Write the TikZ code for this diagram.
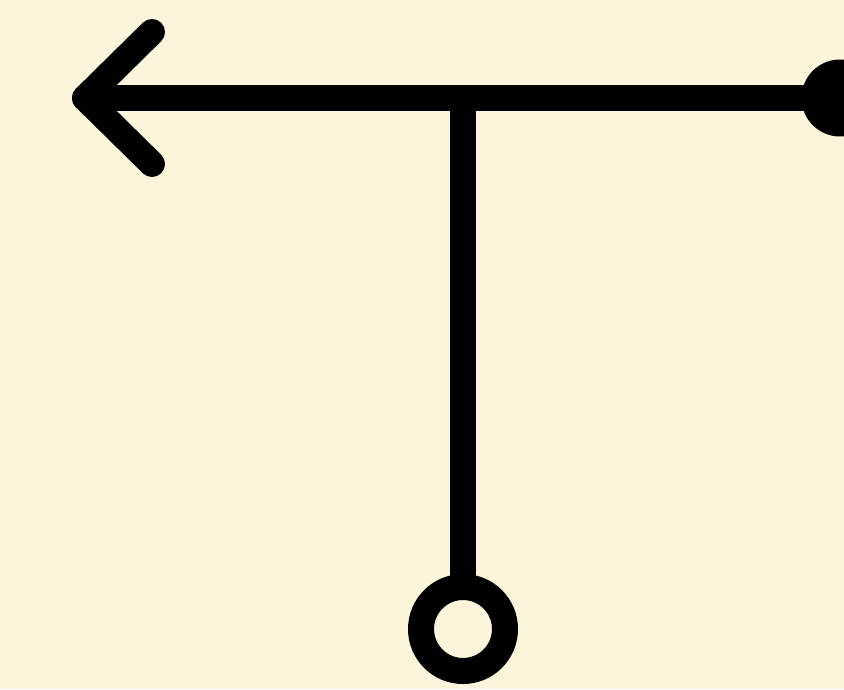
\documentclass[tikz,border=0pt]{standalone}
\usepackage{xcolor}
\usepackage{tikz}
\usetikzlibrary{positioning, calc}
\definecolor{paper}{HTML}{FCF5DC}

\begin{document}
\begin{tikzpicture}[
  x=0.02cm, y=-0.02cm,
  wire/.style={line width=0.52cm, line cap=round, line join=round},
  dot/.style={circle, fill=black, inner sep=0pt, minimum size=1.54cm},
  ring/.style={circle, draw=black, fill=paper, line width=0.52cm, inner sep=0pt, minimum size=1.68cm},
]
  \useasboundingbox (0,0) rectangle (844,689);
  \fill[paper] (0,0) rectangle (844,689);

  \coordinate (tip) at (85,98);
  \coordinate (junction) at (463,98);
  \coordinate (barbup) at (152,32);
  \coordinate (barbdown) at (152,164);
  \node[dot] (source) at (840,98) {};
  \node[ring] (sink) at (463,629) {};

  \draw[wire] (junction) -- (sink.north);
  \draw[wire] (source.center) -- (tip);
  \draw[wire] (barbup) -- (tip) -- (barbdown);
\end{tikzpicture}
\end{document}
